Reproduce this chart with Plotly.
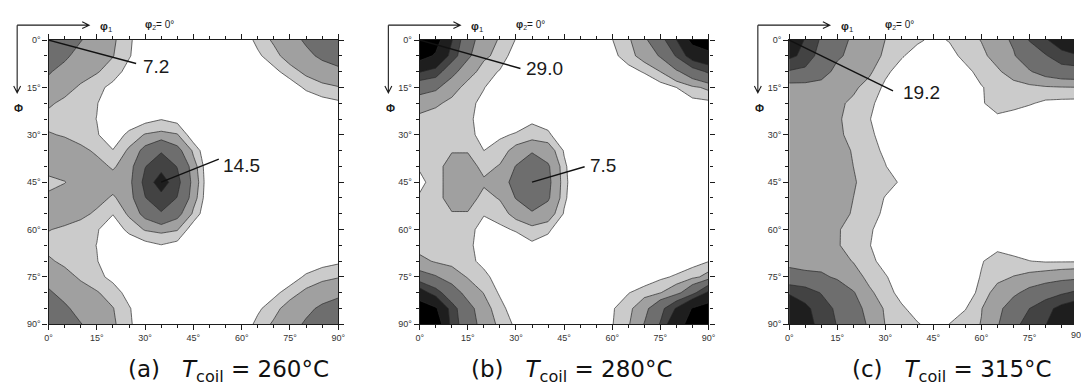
import plotly.graph_objects as go

# ODF grid: phi1 along columns, Phi along rows, 5 degree steps
PHI1 = [0, 5, 10, 15, 20, 25, 30, 35, 40, 45, 50, 55, 60, 65, 70, 75, 80, 85, 90]
PHI = [0, 5, 10, 15, 20, 25, 30, 35, 40, 45, 50, 55, 60, 65, 70, 75, 80, 85, 90]

# intensity levels (multiples of random) and the grey used above each level
LEVELS = [1, 2, 4, 8, 12, 20]
FILLS = ["#cbcbcb", "#a0a0a0", "#6e6e6e", "#434343", "#1e1e1e", "#000000"]

ODF_260 = [
    [7.2, 5.6, 4.1, 3.0, 2.2, 1.2, 0.2, 0, 0, 0, 0, 0, 0.3, 1.3, 2.2, 3.2, 4.3, 5.3, 6.0],
    [5.6, 4.4, 3.2, 2.6, 2.05, 1.1, 0.2, 0, 0, 0, 0, 0, 0, 0.8, 1.6, 2.6, 3.5, 4.4, 5.0],
    [4.2, 3.3, 2.6, 2.1, 1.5, 0.6, 0, 0, 0, 0, 0, 0, 0, 0, 0.7, 1.5, 2.3, 3.0, 3.5],
    [3.3, 2.5, 1.8, 1.3, 0.7, 0.1, 0, 0, 0, 0, 0, 0, 0, 0, 0, 0.4, 1.2, 1.6, 1.9],
    [2.2, 1.7, 1.4, 1.05, 0.3, 0, 0, 0.2, 0, 0, 0, 0, 0, 0, 0, 0, 0.2, 0.6, 0.8],
    [1.6, 1.5, 1.4, 0.98, 0.1, 0.2, 0.6, 0.95, 0.6, 0, 0, 0, 0, 0, 0, 0, 0, 0, 0],
    [2.1, 1.9, 1.5, 1.1, 0.3, 1.3, 2.09, 2.31, 2.09, 0.3, 0, 0, 0, 0, 0, 0, 0, 0, 0],
    [2.8, 2.6, 2.3, 1.8, 1.05, 2.2, 4.84, 7.6, 4.84, 1.7, 0, 0, 0, 0, 0, 0, 0, 0, 0],
    [2.3, 2.7, 2.7, 2.4, 1.85, 2.6, 7.85, 10.47, 7.85, 2.6, 0, 0, 0, 0, 0, 0, 0, 0, 0],
    [1.8, 1.95, 2.6, 2.7, 2.5, 2.98, 9.18, 14.5, 9.18, 2.98, 0, 0, 0, 0, 0, 0, 0, 0, 0],
    [2.15, 2.6, 2.7, 2.4, 1.85, 2.6, 7.85, 10.47, 7.85, 2.6, 0, 0, 0, 0, 0, 0, 0, 0, 0],
    [2.8, 2.6, 2.3, 1.8, 1.05, 2.2, 4.84, 7.6, 4.84, 1.7, 0, 0, 0, 0, 0, 0, 0, 0, 0],
    [2.05, 1.8, 1.5, 1.1, 0.3, 1.3, 2.09, 2.31, 2.09, 0.3, 0, 0, 0, 0, 0, 0, 0, 0, 0],
    [1.6, 1.5, 1.4, 0.98, 0.1, 0.2, 0.6, 0.95, 0.6, 0, 0, 0, 0, 0, 0, 0, 0, 0, 0],
    [2.2, 1.7, 1.4, 1.05, 0.3, 0, 0, 0.2, 0, 0, 0, 0, 0, 0, 0, 0, 0.2, 0.6, 0.8],
    [3.2, 2.5, 1.8, 1.3, 0.7, 0.1, 0, 0, 0, 0, 0, 0, 0, 0, 0, 0.4, 1.2, 1.6, 1.9],
    [4.3, 3.3, 2.6, 2.1, 1.5, 0.6, 0, 0, 0, 0, 0, 0, 0, 0, 0.7, 1.5, 2.3, 3.0, 3.5],
    [5.3, 4.4, 3.2, 2.6, 2.05, 1.1, 0.2, 0, 0, 0, 0, 0, 0, 0.8, 1.6, 2.6, 3.5, 4.4, 5.0],
    [6.8, 5.6, 4.1, 3.0, 2.2, 1.2, 0.2, 0, 0, 0, 0, 0, 0.3, 1.3, 2.2, 3.2, 4.3, 5.3, 6.0],
]

ODF_280 = [
    [29.0, 23.3, 12.3, 4.6, 3.3, 1.75, 0.95, 0.2, 0, 0, 0, 0.3, 0.97, 1.73, 3.41, 6.35, 11.8, 22.5, 27.0],
    [23.3, 19.0, 10.0, 4.44, 2.24, 1.64, 0.36, 0, 0, 0, 0, 0, 0.7, 1.5, 2.6, 4.2, 8.3, 14.5, 16.7],
    [12.3, 10.0, 4.8, 2.6, 1.49, 0.91, 0.2, 0, 0, 0, 0, 0, 0.1, 0.6, 1.1, 2.0, 3.5, 5.8, 8.6],
    [4.6, 4.44, 2.6, 1.5, 1.05, 0.3, 0, 0, 0, 0, 0, 0, 0, 0, 0.1, 0.5, 1.0, 1.7, 2.3],
    [3.3, 2.24, 1.64, 1.3, 0.7, 0, 0, 0.2, 0, 0, 0, 0, 0, 0, 0, 0, 0.4, 0.65, 0.7],
    [1.3, 1.4, 1.35, 1.2, 0.6, 0.1, 0.4, 0.89, 0.5, 0, 0, 0, 0, 0, 0, 0, 0, 0, 0],
    [1.5, 1.5, 1.4, 1.25, 0.7, 0.85, 1.1, 1.25, 1.2, 0.2, 0, 0, 0, 0, 0, 0, 0, 0, 0],
    [1.4, 1.5, 1.9, 1.9, 1.0, 1.4, 2.5, 3.6, 2.8, 0.9, 0, 0, 0, 0, 0, 0, 0, 0, 0],
    [1.1, 1.5, 2.6, 2.6, 1.6, 2.1, 4.1, 6.5, 4.3, 1.2, 0, 0, 0, 0, 0, 0, 0, 0, 0],
    [0.8, 1.33, 2.8, 2.8, 2.2, 2.3, 5.34, 7.5, 4.6, 1.3, 0, 0, 0, 0, 0, 0, 0, 0, 0],
    [1.1, 1.5, 2.6, 2.6, 1.6, 2.1, 4.1, 6.5, 4.3, 1.2, 0, 0, 0, 0, 0, 0, 0, 0, 0],
    [1.4, 1.5, 1.9, 1.9, 1.05, 1.4, 2.5, 3.52, 2.8, 0.9, 0, 0, 0, 0, 0, 0, 0, 0, 0],
    [1.5, 1.5, 1.4, 1.25, 0.7, 0.8, 1.1, 1.52, 1.2, 0.2, 0, 0, 0, 0, 0, 0, 0, 0, 0],
    [1.3, 1.4, 1.35, 1.2, 0.6, 0.1, 0.4, 0.82, 0.5, 0, 0, 0, 0, 0, 0, 0, 0, 0, 0.3],
    [2.5, 1.8, 1.6, 1.3, 0.7, 0, 0, 0.1, 0, 0, 0, 0, 0, 0, 0, 0, 0.3, 0.6, 0.95],
    [5.0, 4.2, 2.8, 1.9, 1.3, 0.5, 0, 0, 0, 0, 0, 0, 0, 0, 0.3, 0.8, 1.15, 1.6, 2.5],
    [15.0, 9.5, 5.5, 3.0, 1.95, 0.85, 0.2, 0, 0, 0, 0, 0, 0.3, 0.95, 1.5, 1.95, 3.0, 6.5, 13.0],
    [25.0, 21.0, 9.5, 5.0, 2.5, 1.4, 0.3, 0, 0, 0, 0, 0, 0.9, 1.6, 3.1, 6.5, 12.5, 20.5, 24.0],
    [29.0, 26.0, 10.0, 5.5, 2.9, 1.68, 0.79, 0.2, 0, 0, 0, 0.3, 0.95, 1.8, 4.1, 8.3, 17.0, 23.0, 28.0],
]

ODF_315 = [
    [19.2, 11.4, 7.45, 4.6, 3.74, 3.0, 1.98, 1.6, 1.15, 0.8, 1.05, 1.5, 2.05, 3.2, 4.3, 8.2, 11.5, 14.5, 17.5],
    [13.0, 10.9, 5.9, 4.4, 3.3, 2.8, 1.7, 1.1, 0.6, 0.3, 0.7, 1.25, 1.7, 2.5, 3.8, 5.5, 7.6, 10.5, 11.6],
    [7.6, 6.8, 5.2, 3.2, 2.9, 2.2, 1.2, 0.6, 0.2, 0, 0.2, 0.75, 1.3, 1.8, 2.6, 3.8, 5.0, 5.8, 6.0],
    [2.6, 2.8, 2.9, 2.7, 2.2, 1.6, 0.8, 0.2, 0, 0, 0, 0.3, 0.95, 1.3, 1.5, 1.6, 1.8, 1.9, 1.95],
    [3.0, 2.9, 2.6, 2.2, 1.8, 1.2, 0.6, 0.1, 0, 0, 0, 0.2, 0.9, 1.4, 1.3, 1.1, 0.8, 0.7, 0.65],
    [3.2, 3.0, 2.6, 2.15, 1.6, 1.05, 0.4, 0, 0, 0, 0, 0, 0.6, 0.8, 0.6, 0.3, 0, 0, 0],
    [3.3, 3.1, 2.7, 2.2, 1.7, 1.2, 0.6, 0, 0, 0, 0, 0, 0, 0, 0, 0, 0, 0, 0],
    [3.4, 3.2, 2.9, 2.5, 1.9, 1.4, 0.8, 0.1, 0, 0, 0, 0, 0, 0, 0, 0, 0, 0, 0],
    [3.5, 3.3, 3.0, 2.6, 2.0, 1.5, 1.05, 0.3, 0, 0, 0, 0, 0, 0, 0, 0, 0, 0, 0],
    [3.5, 3.4, 3.1, 2.7, 2.1, 1.6, 1.3, 0.9, 0.3, 0, 0, 0, 0, 0, 0, 0, 0, 0, 0],
    [3.5, 3.3, 3.0, 2.6, 2.0, 1.5, 0.95, 0.3, 0, 0, 0, 0, 0, 0, 0, 0, 0, 0, 0],
    [3.5, 3.2, 2.9, 2.4, 1.9, 1.4, 0.8, 0.1, 0, 0, 0, 0, 0, 0, 0, 0, 0, 0, 0],
    [3.4, 3.1, 2.7, 2.1, 1.6, 1.15, 0.5, 0, 0, 0, 0, 0, 0, 0, 0, 0, 0, 0, 0],
    [3.5, 3.1, 2.7, 2.1, 1.55, 1.05, 0.4, 0, 0, 0, 0, 0, 0.5, 0.8, 0.6, 0.4, 0.3, 0.3, 0.3],
    [3.6, 3.3, 2.9, 2.4, 1.95, 1.3, 0.6, 0, 0, 0, 0, 0.4, 0.95, 1.3, 1.2, 1.02, 0.9, 0.9, 0.9],
    [4.6, 4.5, 4.5, 3.6, 2.5, 1.7, 1.1, 0.4, 0, 0, 0, 0.6, 1.05, 1.6, 2.05, 2.4, 2.7, 3.0, 3.2],
    [11.5, 10.0, 7.8, 6.0, 4.2, 2.2, 1.5, 0.6, 0.1, 0, 0.2, 0.5, 1.3, 2.6, 3.5, 4.8, 6.0, 7.4, 8.8],
    [16.0, 13.0, 10.0, 7.2, 5.0, 3.2, 1.8, 1.2, 0.5, 0, 0.4, 0.95, 1.95, 3.3, 5.4, 8.0, 10.5, 13.5, 15.5],
    [18.5, 14.0, 10.5, 7.8, 5.6, 3.6, 1.95, 1.5, 1.1, 0.6, 1.02, 1.5, 2.05, 3.7, 7.0, 9.4, 11.9, 14.0, 17.0],
]

TICK_DEG = [0, 15, 30, 45, 60, 75, 90]
TICK_TEXT = ["0°", "15°", "30°", "45°", "60°", "75°", "90°"]

PANEL_TAGS = ["(a)", "(b)", "(c)"]
COIL_TEMPS = [260, 280, 315]
GRIDS = [ODF_260, ODF_280, ODF_315]

# (row, column) grid cells whose intensity is written on each section
LABELLED_CELLS = [[(0, 0), (9, 7)], [(0, 0), (9, 7)], [(0, 0)]]
# leader end (phi1, Phi) and text anchor (phi1, Phi) for each written value
LABEL_PLACES = [
    [(27.2, 7.4, 28.6, 8.5), (52.9, 37.7, 53.6, 39.6)],
    [(31.4, 9.0, 32.6, 8.9), (51.4, 40.1, 52.3, 39.8)],
    [(32.4, 16.1, 35.0, 16.6)],
]

# page geometry in pixels
W, H = 1081, 391
PLOT_LEFT = [45.0, 420.0, 793.3]
PLOT_RIGHT = [337.7, 711.7, 1081.0]
PLOT_TOP, PLOT_BOTTOM = 36.0, 327.7
X_END = [90, 90, 88.9]
CAPTION_X = [226.5, 574.0, 958.0]
CAPTION_Y = 376.0

FONT = "Liberation Sans, Arial, sans-serif"
CAPTION_FONT = "DejaVu Sans, Liberation Sans, sans-serif"
INK = "#1c1c1c"
GAP = "\u00a0\u00a0\u00a0"


def px(x):
    return x / W


def py(y):
    return 1 - y / H


fig = go.Figure()
shapes = []
annotations = []

for i, grid in enumerate(GRIDS):
    n = i + 1
    xa = "x" if n == 1 else f"x{n}"
    ya = "y" if n == 1 else f"y{n}"

    # one filled region per level, lowest first, so darker greys sit on top
    for level, colour in zip(LEVELS, FILLS):
        fig.add_trace(go.Contour(
            x=PHI1, y=PHI, z=grid, xaxis=xa, yaxis=ya,
            contours=dict(type="constraint", operation="<", value=level),
            fillcolor=colour,
            line=dict(color="#2a2a2a", width=0.7, smoothing=0),
            showscale=False, hoverinfo="skip", showlegend=False,
        ))

    axis_style = dict(
        showline=True, linecolor=INK, linewidth=1.2,
        ticks="outside", ticklen=5, tickwidth=1.1, tickcolor=INK,
        showgrid=False, zeroline=False,
        tickmode="array", tickvals=TICK_DEG, ticktext=TICK_TEXT,
        tickfont=dict(family=FONT, size=9, color="#333333"),
        minor=dict(ticks="outside", ticklen=3, tickwidth=1, tickcolor=INK,
                   tickmode="linear", tick0=0, dtick=5, showgrid=False),
    )
    fig.update_layout({
        ("xaxis" if n == 1 else f"xaxis{n}"): dict(
            domain=[px(PLOT_LEFT[i]), px(PLOT_RIGHT[i])],
            range=[0, X_END[i]], anchor=ya, mirror="ticks", **axis_style),
        ("yaxis" if n == 1 else f"yaxis{n}"): dict(
            domain=[py(PLOT_BOTTOM), py(PLOT_TOP)],
            range=[90, 0], anchor=xa,
            mirror="ticks" if n < 3 else False, **axis_style),
    })

    # phi1 / Phi direction arrows and section header
    dx = PLOT_LEFT[i] - PLOT_LEFT[0]
    arrow = dict(type="path", xref="paper", yref="paper",
                 line=dict(color=INK, width=1.1))
    shapes.append(dict(arrow, path=(f"M {px(13.3 + dx)},{py(20.7)} L {px(86 + dx)},{py(20.7)} "
                                    f"M {px(79 + dx)},{py(17.2)} L {px(86 + dx)},{py(20.7)} "
                                    f"L {px(79 + dx)},{py(24.2)}")))
    shapes.append(dict(arrow, path=(f"M {px(13.3 + dx)},{py(20.7)} L {px(13.3 + dx)},{py(90)} "
                                    f"M {px(9.8 + dx)},{py(83)} L {px(13.3 + dx)},{py(90)} "
                                    f"L {px(16.8 + dx)},{py(83)}")))
    annotations.append(dict(
        x=px(95 + dx), y=py(23), xref="paper", yref="paper", xanchor="left", yanchor="middle",
        text="<b>φ</b><sub>1</sub>", showarrow=False, font=dict(family=FONT, size=11, color=INK)))
    annotations.append(dict(
        x=px(140 + dx), y=py(21), xref="paper", yref="paper", xanchor="left", yanchor="middle",
        text="<b>φ</b><sub>2</sub>= 0°", showarrow=False, font=dict(family=FONT, size=10, color=INK)))
    annotations.append(dict(
        x=px(15 + dx), y=py(106), xref="paper", yref="paper", xanchor="center", yanchor="middle",
        text="<b>Φ</b>", showarrow=False, font=dict(family=FONT, size=11, color=INK)))

    # intensity values with leader lines
    for (r, c), (lx, ly, tx, ty) in zip(LABELLED_CELLS[i], LABEL_PLACES[i]):
        shapes.append(dict(type="line", xref=xa, yref=ya,
                           x0=PHI1[c], y0=PHI[r], x1=lx, y1=ly,
                           line=dict(color="#111111", width=1.4)))
        annotations.append(dict(
            x=tx, y=ty, xref=xa, yref=ya, xanchor="left", yanchor="middle",
            text=f"{grid[r][c]:.1f}", showarrow=False,
            font=dict(family=FONT, size=19, color="#1a1a1a")))

    # caption
    annotations.append(dict(
        x=px(CAPTION_X[i]), y=py(CAPTION_Y), xref="paper", yref="paper",
        xanchor="center", yanchor="middle", showarrow=False,
        text=f"{PANEL_TAGS[i]}{GAP}<i>T</i><sub>coil</sub> = {COIL_TEMPS[i]}°C",
        font=dict(family=CAPTION_FONT, size=23, color="#111111")))

# last tick label of the right section sits on the page edge
annotations.append(dict(
    x=px(PLOT_LEFT[2] + 90 * (PLOT_RIGHT[2] - PLOT_LEFT[2]) / X_END[2]), y=py(338.5),
    xref="paper", yref="paper", xanchor="center", yanchor="middle",
    text=TICK_TEXT[-1], showarrow=False, font=dict(family=FONT, size=9, color="#333333")))

fig.update_layout(
    width=W, height=H, margin=dict(l=0, r=0, t=0, b=0),
    paper_bgcolor="white", plot_bgcolor="white",
    shapes=shapes, annotations=annotations, showlegend=False,
)

fig.write_html("out.html")
